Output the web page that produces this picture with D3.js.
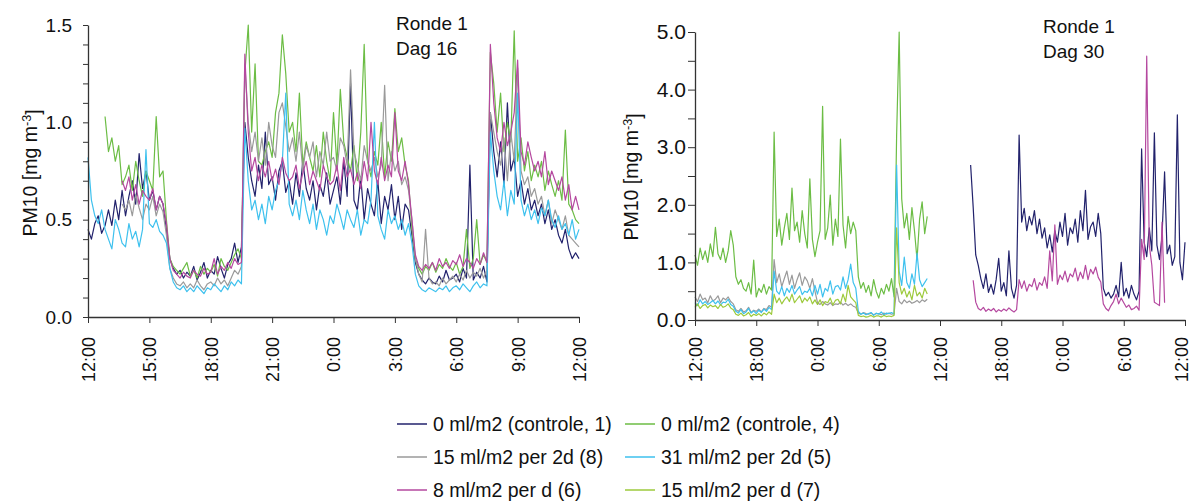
<!DOCTYPE html>
<html>
<head>
<meta charset="utf-8">
<script src="https://cdn.jsdelivr.net/npm/d3@7/dist/d3.min.js"></script>
<style>
  body { margin: 0; background: #fff; }
  text { font-family: "Liberation Sans", Arial, sans-serif; fill: #111; }
</style>
</head>
<body>
<svg id="chart" width="1192" height="501"></svg>
<script>
// ---- Series legend ----
const seriesLabels = [
  "0 ml/m2 (controle, 1)", "0 ml/m2 (controle, 4)",
  "15 ml/m2 per 2d (8)", "31 ml/m2 per 2d (5)",
  "8 ml/m2 per d (6)", "15 ml/m2 per d (7)"
];
const seriesColors = ["#22226c", "#6cbd45", "#9a9a9a", "#3ec1ee", "#b5489f", "#9dca3c"];

// ---- Ronde 1, Dag 16: PM10 [mg m-3], every 10 minutes from 12:00 to 12:00 ----
const d16Controle1 = [
  .45,.40,.48,.52,.43,.47, .55,.47,.60,.50,.65,.52, .62,.70,.58,.84,.66,.75, .60,.65,.55,.62,.58,.45,
  .30,.25,.22,.24,.20,.23, .21,.26,.19,.23,.28,.20, .24,.22,.31,.25,.20,.27, .30,.38,.28,.36,1.0,.82,
  .70,.62,.78,.66,.95,.68, .72,.60,.75,.80,.64,.70, .58,.74,.62,.80,.66,.60, .70,.55,.68,.62,.74,.58,
  .65,.72,.58,.80,.62,1.2, .60,.55,.72,.50,.66,.58, .52,.70,.48,.62,.55,.68, .50,.62,.45,.58,.55,.42,
  .28,.22,.19,.17,.20,.18, .17,.21,.18,.24,.19,.20, .22,.18,.25,.20,.78,.19, .23,.20,.26,.18,1.05,.85,
  .72,.90,.68,1.1,.75,.82, .62,.70,.58,.66,.55,.60, .52,.58,.48,.55,.45,.50, .42,.38,.45,.35,.30,.33,
  .30
];
const d16Controle4 = [
  null,null,null,null,null,1.03, .85,.92,.80,.88,.68,.72, .78,.65,.80,.70,.62,.75, .70,.65,1.03,.72,.75,.50,
  .30,.26,.24,.22,.25,.28, .21,.24,.20,.26,.22,.25, .23,.27,.21,.30,.26,.24, .28,.32,.35,.30,1.25,1.50,
  .95,1.30,.80,.78,.85,.90, .82,1.05,1.15,1.45,1.25,.95, 1.0,.85,1.15,.78,.90,.82, .75,.88,.72,.95,.80,.70,
  1.05,.78,1.17,.90,.82,.75, .88,.70,.95,1.40,.80,.72, .85,.78,1.0,.72,.90,.80, 1.07,.85,.92,.78,.70,.45,
  .30,.25,.22,.26,.24,.28, .23,.27,.25,.30,.26,.24, .28,.22,.26,.45,.25,.30, .50,.27,.32,.28,1.36,1.20,
  .95,1.15,.85,1.0,.90,1.47, .80,.92,.75,.85,.70,.78, .72,.80,.65,.75,.68,.62, .70,.60,.96,.58,.55,.50,
  .48
];
const d16Per2d8 = [
  null,null,null,null,null,null, null,null,null,null,.58,.55, .60,.52,.63,.56,.50,.58, .55,.62,.52,.58,.54,.42,
  .25,.20,.17,.16,.18,.15, .17,.15,.19,.16,.14,.17, .18,.16,.20,.17,.19,.16, .20,.24,.22,.26,1.30,1.00,
  .85,.95,.80,.92,.78,1.0, .88,.82,1.05,1.10,.98,.85, .92,.80,.95,.75,.88,.82, .90,.72,.85,.78,.95,.80,
  .82,.75,.92,.88,.78,1.27, .85,.78,.70,.88,.80,.75, .82,.72,.78,1.19,.70,.85, .75,.80,.68,.72,.65,.50,
  .30,.22,.18,.45,.20,.17, .18,.16,.20,.17,.19,.21, .18,.22,.19,.24,.20,.23, .21,.25,.20,.24,1.05,.95,
  .85,.78,.92,.70,.95,.80, 1.28,.75,.68,.72,.62,.66, .58,.62,.52,.60,.48,.55, .50,.45,.52,.42,.40,.38,
  .36
];
const d16Per2d5 = [
  .82,.60,.52,.48,.55,.45, .40,.35,.50,.45,.38,.36, .48,.40,.44,.36,.45,.86, .48,.46,.50,.44,.42,.38,
  .25,.18,.15,.14,.16,.13, .15,.13,.16,.14,.12,.15, .14,.17,.15,.13,.16,.14, .18,.16,.19,.17,.97,.70,
  .55,.60,.50,.58,.48,.62, .55,.65,.70,.80,1.15,.58, .52,.60,.50,.65,.55,.48, .58,.45,.55,.50,.42,.52,
  .48,.58,.52,.45,.55,.50, .46,.55,.42,.50,.48,.60, 1.0,.52,.45,.40,.55,.48, .52,.45,.50,.42,.48,.38,
  .22,.16,.14,.13,.15,.14, .13,.15,.14,.16,.13,.15, .16,.14,.17,.15,.13,.16, .18,.15,.17,.16,.95,.75,
  .62,.55,.70,.52,.65,.58, 1.15,.60,.52,.58,.50,.55, .48,.56,.52,.60,.50,.46, .52,.45,.48,.42,.50,.40,
  .45
];
const d16PerD6 = [
  null,null,null,null,null,null, null,null,null,null,.70,.65, .72,.60,.68,.58,.65,.62, .60,.66,.55,.62,.58,.48,
  .30,.24,.22,.20,.23,.21, .20,.24,.22,.21,.25,.22, .23,.30,.22,.26,.24,.28, .25,.30,.27,.28,1.35,.95,
  .75,.82,.70,.78,.72,.80, .70,.76,.68,.82,.74,.70, .72,.78,.66,.74,.80,.68, .75,.70,.65,.78,.72,.68,
  .70,.78,.65,.82,.72,.76, .68,.74,.66,.80,.70,1.0, .75,.68,.82,.70,.78,.72, 1.05,.75,.70,.80,.68,.50,
  .32,.26,.24,.27,.25,.28, .24,.30,.26,.28,.25,.29, .27,.32,.26,.30,.28,.25, .30,.27,.33,.28,1.40,1.10,
  .92,.85,1.0,.88,.95,1.05, 1.32,.85,.78,.90,.82,.75, .80,.72,.85,.68,.75,.70, .65,.72,.60,.68,.55,.62,
  .55
];
const d16PerD7 = [];

// ---- Ronde 1, Dag 30: every 15 minutes, first block from 12:00 (day 1) ----
const d30Controle4 = [
  1.13,.95,1.25,1.05, 1.20,1.0,1.32,1.10, 1.61,1.15,1.05,1.25, 1.0,1.20,1.55,1.30,
  .75,.62,.70,.55, .50,.65,.45,1.04, .40,.55,.48,.62, .45,.58,.52,3.26,
  1.45,1.75,1.30,1.60, 1.85,1.40,2.29,1.55, 1.70,1.35,1.90,1.50, 1.25,2.45,1.40,1.10,
  1.35,1.55,3.71,1.40, 1.60,2.17,1.30,1.75, 1.45,3.14,1.65,1.25, 1.80,1.50,1.70,1.55,
  .75,.55,.65,.48, .60,.42,.70,.50, .38,.55,.45,.62, .50,.72,.40,3.20,
  5.0,2.10,1.60,1.85, 1.40,1.95,1.55,1.05, 1.75,2.05,1.50,1.80
];
const d30Per2d8 = [
  .40,.32,.45,.35, .38,.30,.42,.33, .36,.42,.30,.38, .35,.40,.32,.28,
  .18,.15,.20,.14, .16,.22,.13,.17, .15,.19,.14,.20, .18,.25,.22,1.05,
  .65,.80,.58,.72, .85,.62,.78,.55, .70,.82,.60,.75, .68,.55,.72,.50,
  .30,.27,.32,.28, .26,.30,.25,.28, .27,.31,.26,.29, .25,.28,.24,.22,
  .12,.10,.13,.11, .10,.12,.09,.11, .11,.09,.12,.10, .12,.10,.11,.55,
  .32,.28,.35,.30, .33,.29,.31,.34, .30,.35,.32,.36
];
const d30Per2d5 = [
  .30,.25,.35,.28, .32,.27,.30,.34, .28,.33,.26,.31, .30,.36,.27,.24,
  .15,.12,.18,.11, .14,.20,.12,.16, .11,.17,.13,.19, .15,.22,.18,.85,
  .50,.45,.58,.42, .55,.48,.60,.45, .52,.58,.44,.50, .48,.55,.42,.60,
  .45,.62,.40,.55, .50,.68,.45,.58, .60,.52,.75,.55, .70,.97,.65,.55,
  .15,.10,.12,.09, .11,.13,.08,.12, .10,.14,.09,.12, .11,.13,.10,2.69,
  .85,.60,1.09,.65, .55,.80,.62,1.16, .70,.58,.65,.72
];
const d30PerD7 = [
  .22,.28,.20,.25, .27,.21,.26,.23, .25,.20,.27,.22, .24,.28,.21,.18,
  .10,.08,.12,.07, .09,.13,.06,.10, .08,.11,.07,.12, .09,.14,.10,.45,
  .30,.38,.28,.35, .40,.32,.45,.30, .36,.42,.30,.38, .33,.40,.28,.35,
  .27,.35,.25,.32, .30,.38,.26,.34, .36,.28,.45,.32, .60,.40,.35,.30,
  .08,.06,.07,.05, .06,.08,.05,.07, .07,.05,.08,.06, .07,.06,.08,1.60,
  .65,.45,.55,.40, .50,.35,.60,.42, .48,.38,.55,.45
];
// second block from 15:00 (day 2) to 12:00 (day 3)
const d30Controle1 = [
  2.69,1.96,1.13,.95, .72,.55,.80,.48, .62,.45,.70,1.07, .50,.65,.42,1.20, .55,.38,.60,3.21,
  1.70,1.94,1.55,1.80, 1.65,1.90,1.50,1.75, 1.42,1.60,1.25,1.48, 1.18,1.55,1.35,1.70,
  1.45,1.85,1.30,1.60, 1.50,1.75,1.35,1.90, 1.55,2.25,1.40,1.62, 1.70,1.45,1.85,1.50,
  .55,.42,.48,.38, .45,.60,.40,1.0, .42,.55,.38,.60, .45,.35,.50,2.97,
  1.35,1.10,1.60,1.20, 3.25,1.30,1.05,1.45, 2.57,1.15,1.30,.95, 1.10,3.56,1.00,.70,
  1.35
];
const d30PerD6 = [
  null,.69,.31,.20, .17,.22,.15,.19, .16,.20,.14,.18, .15,.19,.16,.21, .17,.14,.18,.70,
  .55,.68,.50,.62, .58,.72,.52,.65, .60,.75,.55,1.20, .68,1.65,.62,.78,
  .70,.85,.66,.80, .75,.90,.68,.83, .72,.95,.70,.88, .80,.92,.74,.66,
  .28,.20,.16,.25, .32,.45,.28,.38, .30,.22,.26,.18, .20,.24,.17,1.40,
  1.05,4.58,1.30,.95, .31,.28,.25,1.70, .30,null,null,null, null,null,null,null,
  null
];

// ---- Axis ticks ----
const d16HourTicks = [0, 3, 6, 9, 12, 15, 18, 21, 24];      // hours after 12:00
const d30HourTicks = [0, 6, 12, 18, 24, 30, 36, 42, 48];
const d16YTicks = d3.range(16).map(i => i / 10);           // 0.0 .. 1.5
const d30YTicks = d3.range(11).map(i => i / 2);            // 0.0 .. 5.0

const svg = d3.select("#chart");
const clock = h => `${(12 + h) % 24}:00`;

function drawPanel(cfg) {
  const g = svg.append("g");
  const x = d3.scaleLinear().domain([0, cfg.hours]).range([cfg.left, cfg.right]);
  const y = d3.scaleLinear().domain([0, cfg.yMax]).range([cfg.bottom, cfg.top]);

  const line = d3.line()
    .defined(d => d.v != null)
    .x(d => x(d.t))
    .y(d => y(d.v));

  cfg.series.forEach(s => {
    if (!s.values.length) return;
    const pts = s.values.map((v, i) => ({ t: s.start + i * s.step, v }));
    g.append("path")
      .datum(pts)
      .attr("fill", "none")
      .attr("stroke", seriesColors[s.idx])
      .attr("stroke-width", 1.2)
      .attr("stroke-linejoin", "round")
      .attr("d", line);
  });

  // y axis
  const isMajor = v => Math.abs(v / cfg.yMajor - Math.round(v / cfg.yMajor)) < 1e-9;
  const ya = g.append("g")
    .attr("transform", `translate(${cfg.left},0)`)
    .call(d3.axisLeft(y).tickValues(cfg.yTicks).tickSize(cfg.yTickLen).tickSizeOuter(0)
      .tickPadding(cfg.yPad).tickFormat(v => isMajor(v) ? d3.format(".1f")(v) : ""));
  ya.selectAll("text").style("font-size", cfg.yFont + "px");

  // x axis with vertical clock labels
  const xa = g.append("g")
    .attr("transform", `translate(0,${cfg.bottom})`)
    .call(d3.axisBottom(x).tickValues(cfg.xTicks).tickSize(6).tickSizeOuter(0).tickFormat(clock));
  xa.selectAll("text")
    .style("font-size", cfg.xFont + "px")
    .attr("transform", "rotate(-90)")
    .attr("text-anchor", "end")
    .attr("x", -cfg.xPad)
    .attr("y", 0)
    .attr("dy", (d, i, n) => (i === n.length - 1 && cfg.lastLabelInset) ? "0.15em" : "0.36em");

  [ya, xa].forEach(a => {
    a.select(".domain").attr("stroke", "#333").attr("stroke-width", 1.3);
    a.selectAll(".tick line").attr("stroke", "#333").attr("stroke-width", 1);
  });

  // axis title
  const t = svg.append("text")
    .attr("transform", `translate(${cfg.titleX},${cfg.titleY}) rotate(-90)`)
    .attr("text-anchor", "middle")
    .style("font-size", cfg.titleFont + "px");
  t.append("tspan").text("PM10 [mg m");
  t.append("tspan").attr("dy", "-0.45em").style("font-size", (cfg.titleFont * 0.65) + "px").text("-3");
  t.append("tspan").attr("dy", "0.45em").text("]");

  // annotation
  cfg.note.forEach((s, i) => {
    svg.append("text")
      .attr("x", cfg.noteX).attr("y", cfg.noteY + i * 24.5)
      .style("font-size", "19px")
      .text(s);
  });
}

drawPanel({
  hours: 24, left: 88, right: 579, top: 25, bottom: 317, yMax: 1.5, yMajor: 0.5,
  yTicks: d16YTicks, xTicks: d16HourTicks, yTickLen: 5, yPad: 11, yFont: 19, xFont: 18, xPad: 20,
  titleX: 37, titleY: 173, titleFont: 19.5,
  note: ["Ronde 1", "Dag 16"], noteX: 396, noteY: 30,
  series: [
    { idx: 0, values: d16Controle1, start: 0, step: 1 / 6 },
    { idx: 1, values: d16Controle4, start: 0, step: 1 / 6 },
    { idx: 2, values: d16Per2d8, start: 0, step: 1 / 6 },
    { idx: 3, values: d16Per2d5, start: 0, step: 1 / 6 },
    { idx: 4, values: d16PerD6, start: 0, step: 1 / 6 },
    { idx: 5, values: d16PerD7, start: 0, step: 1 / 6 }
  ]
});

drawPanel({
  hours: 48, left: 695, right: 1185, top: 32, bottom: 320, yMax: 5, yMajor: 1,
  yTicks: d30YTicks, xTicks: d30HourTicks, yTickLen: 7, yPad: 2, yFont: 21, xFont: 18, xPad: 17,
  lastLabelInset: true,
  titleX: 638, titleY: 177, titleFont: 19.5,
  note: ["Ronde 1", "Dag 30"], noteX: 1043, noteY: 33,
  series: [
    { idx: 0, values: d30Controle1, start: 27, step: 0.25 },
    { idx: 1, values: d30Controle4, start: 0, step: 0.25 },
    { idx: 2, values: d30Per2d8, start: 0, step: 0.25 },
    { idx: 3, values: d30Per2d5, start: 0, step: 0.25 },
    { idx: 4, values: d30PerD6, start: 27, step: 0.25 },
    { idx: 5, values: d30PerD7, start: 0, step: 0.25 }
  ]
});

// ---- Legend: two columns, three rows ----
const legend = svg.append("g");
seriesLabels.forEach((label, i) => {
  const col = i % 2, row = Math.floor(i / 2);
  const lx = col === 0 ? 397 : 625;
  const ly = 424 + row * 33;
  legend.append("line")
    .attr("x1", lx).attr("x2", lx + 30).attr("y1", ly).attr("y2", ly)
    .attr("stroke", seriesColors[i]).attr("stroke-width", 1.5);
  legend.append("text")
    .attr("x", lx + 36).attr("y", ly).attr("dy", "0.35em")
    .style("font-size", "19.5px")
    .text(label);
});
</script>
</body>
</html>
